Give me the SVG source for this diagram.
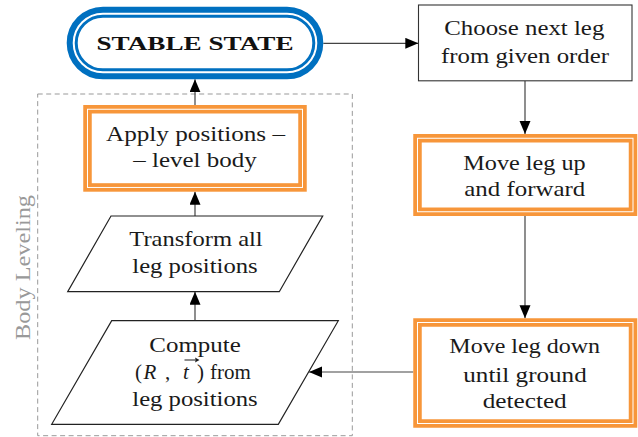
<svg xmlns="http://www.w3.org/2000/svg" width="638" height="437" viewBox="0 0 638 437">
<defs>
<marker id="ah" markerUnits="userSpaceOnUse" markerWidth="14" markerHeight="12" refX="13" refY="5.5" orient="auto">
<path d="M0,0 L13,5.5 L0,11 z" fill="#000"/>
</marker>
<style>
.ob{fill:#fff;stroke:#F7963A;stroke-width:8.5}
.ow{fill:none;stroke:#fff;stroke-width:1}
.pl{fill:#fff;stroke:#222;stroke-width:1.2}
.c{fill:none;stroke:#444;stroke-width:1.2;marker-end:url(#ah)}
</style>
</defs>
<rect width="638" height="437" fill="#fff"/>

<g id="body-leveling-group">
<rect x="37.7" y="94" width="314.6" height="341.7" fill="none" stroke="#999" stroke-width="1" stroke-dasharray="5 3.5"/>
<text transform="translate(29.5,267.5) rotate(-90)" x="0" y="0" style="font-family:'Liberation Serif',serif;font-size:21px;fill:#999;text-anchor:middle" textLength="145" lengthAdjust="spacingAndGlyphs">Body Leveling</text>
</g>

<g id="connectors">
<line class="c" x1="323.3" y1="43.3" x2="418.3" y2="43.3"/>
<line class="c" x1="525" y1="81" x2="525" y2="134"/>
<line class="c" x1="525" y1="216" x2="525" y2="318.3"/>
<line class="c" x1="413.3" y1="372" x2="309" y2="372"/>
<line class="c" x1="195" y1="320.7" x2="195" y2="291.7"/>
<line class="c" x1="195" y1="216" x2="195" y2="191.7"/>
<line class="c" x1="195" y1="105" x2="195" y2="79.3"/>
</g>

<g id="stable-state">
<rect x="72.2" y="12.2" width="245.6" height="61.6" rx="30.8" fill="#fff" stroke="#0070C0" stroke-width="11"/>
<rect x="73.7" y="13.7" width="242.6" height="58.6" rx="29.3" fill="none" stroke="#fff" stroke-width="2"/>
<text x="195" y="50" style="font-family:'Liberation Serif',serif;font-size:19.5px;font-weight:bold;fill:#111;text-anchor:middle" textLength="197" lengthAdjust="spacingAndGlyphs">STABLE STATE</text>
</g>

<g id="choose-next-leg">
<rect x="418.5" y="5" width="213.5" height="75.8" fill="#fff" stroke="#333" stroke-width="1.1"/>
<text x="524.3" y="35" style="font-family:'Liberation Serif',serif;font-size:21px;fill:#1a1a1a;text-anchor:middle" textLength="160" lengthAdjust="spacingAndGlyphs">Choose next leg</text>
<text x="525" y="62.7" style="font-family:'Liberation Serif',serif;font-size:21px;fill:#1a1a1a;text-anchor:middle" textLength="168" lengthAdjust="spacingAndGlyphs">from given order</text>
</g>

<g id="move-leg-up">
<rect class="ob" x="417.5" y="138.25" width="215.5" height="73.5"/>
<rect class="ow" x="417.5" y="138.25" width="215.5" height="73.5"/>
<text x="524.5" y="170" style="font-family:'Liberation Serif',serif;font-size:21px;fill:#1a1a1a;text-anchor:middle" textLength="122.4" lengthAdjust="spacingAndGlyphs">Move leg up</text>
<text x="524.8" y="196" style="font-family:'Liberation Serif',serif;font-size:21px;fill:#1a1a1a;text-anchor:middle" textLength="121" lengthAdjust="spacingAndGlyphs">and forward</text>
</g>

<g id="move-leg-down">
<rect class="ob" x="417.5" y="322.5" width="215.5" height="101"/>
<rect class="ow" x="417.5" y="322.5" width="215.5" height="101"/>
<text x="524.7" y="353.3" style="font-family:'Liberation Serif',serif;font-size:21px;fill:#1a1a1a;text-anchor:middle" textLength="150.7" lengthAdjust="spacingAndGlyphs">Move leg down</text>
<text x="525" y="381.7" style="font-family:'Liberation Serif',serif;font-size:21px;fill:#1a1a1a;text-anchor:middle" textLength="123.4" lengthAdjust="spacingAndGlyphs">until ground</text>
<text x="524.7" y="408.3" style="font-family:'Liberation Serif',serif;font-size:21px;fill:#1a1a1a;text-anchor:middle" textLength="84" lengthAdjust="spacingAndGlyphs">detected</text>
</g>

<g id="compute">
<polygon class="pl" points="111.7,320.7 338.3,320.7 278.3,424.3 51.7,424.3"/>
<text x="195" y="351.7" style="font-family:'Liberation Serif',serif;font-size:21px;fill:#1a1a1a;text-anchor:middle" textLength="91.4" lengthAdjust="spacingAndGlyphs">Compute</text>
<text y="379.3" style="font-family:'Liberation Serif',serif;font-size:21px;fill:#1a1a1a"><tspan x="135">(</tspan><tspan x="143.5" style="font-style:italic">R</tspan><tspan x="165">,</tspan><tspan x="183" style="font-style:italic">t</tspan><tspan x="197">)</tspan><tspan x="210">from</tspan></text>
<path d="M184.5,360 L197,360" stroke="#1a1a1a" stroke-width="1"/>
<path d="M199.5,360 L195,357.6 L195.8,360 L195,362.4 z" fill="#1a1a1a"/>
<text x="195" y="406" style="font-family:'Liberation Serif',serif;font-size:21px;fill:#1a1a1a;text-anchor:middle" textLength="125.4" lengthAdjust="spacingAndGlyphs">leg positions</text>
</g>

<g id="transform">
<polygon class="pl" points="111,216 322.7,216 279.3,291.7 67.7,291.7"/>
<text x="196" y="245.7" style="font-family:'Liberation Serif',serif;font-size:21px;fill:#1a1a1a;text-anchor:middle" textLength="133.4" lengthAdjust="spacingAndGlyphs">Transform all</text>
<text x="195" y="273.3" style="font-family:'Liberation Serif',serif;font-size:21px;fill:#1a1a1a;text-anchor:middle" textLength="125.4" lengthAdjust="spacingAndGlyphs">leg positions</text>
</g>

<g id="apply-positions">
<rect class="ob" x="87.5" y="109.25" width="215" height="78.2"/>
<rect class="ow" x="87.5" y="109.25" width="215" height="78.2"/>
<text x="195.5" y="140.7" style="font-family:'Liberation Serif',serif;font-size:21px;fill:#1a1a1a;text-anchor:middle" textLength="179" lengthAdjust="spacingAndGlyphs">Apply positions –</text>
<text x="195" y="167.3" style="font-family:'Liberation Serif',serif;font-size:21px;fill:#1a1a1a;text-anchor:middle" textLength="123.4" lengthAdjust="spacingAndGlyphs">– level body</text>
</g>
</svg>
